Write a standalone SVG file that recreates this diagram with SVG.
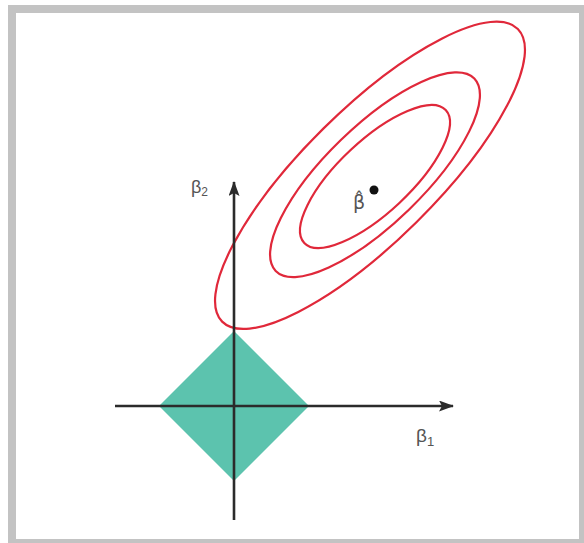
<svg xmlns="http://www.w3.org/2000/svg" width="584" height="543" viewBox="0 0 584 543">
  <style>
    .contour { fill: none; stroke: #e0283a; stroke-width: 2.2; }
    .axis { stroke: #2b2b2b; stroke-width: 2.6; fill: none; }
    .lbl { font-family: "Liberation Sans", Arial, sans-serif; fill: #555555; }
    .hat { font-family: "DejaVu Sans", sans-serif; fill: #555555; }
  </style>
  <defs>
    <marker id="arrow" viewBox="0 0 15 11" refX="14" refY="5.5" markerWidth="15" markerHeight="11" markerUnits="userSpaceOnUse" orient="auto">
      <path d="M0,0 L15,5.5 L0,11 L3,5.5 Z" fill="#2b2b2b"/>
    </marker>
  </defs>
  <rect x="0" y="0" width="584" height="543" fill="#ffffff"/>
  <rect id="frame" x="12" y="9" width="571" height="534" fill="#ffffff" stroke="#c3c3c3" stroke-width="8"/>

  <g id="constraint-region">
    <polygon points="234,331 309,406 234,481 159,406" fill="#5cc3ae"/>
  </g>

  <g id="contours">
    <ellipse id="contour-outer" class="contour" cx="370" cy="175.3" rx="208" ry="66" transform="rotate(-44.7 370 175.3)"/>
    <ellipse id="contour-middle" class="contour" cx="375" cy="174.7" rx="138.3" ry="48.7" transform="rotate(-44.1 375 174.7)"/>
    <ellipse id="contour-inner" class="contour" cx="375" cy="176.5" rx="97" ry="36" transform="rotate(-43.2 375 176.5)"/>
  </g>

  <g id="connectors">
    <line id="axis-b1" class="axis" x1="115" y1="406" x2="453" y2="406" marker-end="url(#arrow)"/>
    <line id="axis-b2" class="axis" x1="234" y1="520" x2="234" y2="182" marker-end="url(#arrow)"/>
  </g>

  <g id="beta-hat">
    <circle cx="374" cy="190" r="4.5" fill="#111111"/>
    <text class="hat" x="353" y="209" font-size="19">β̂</text>
  </g>

  <g id="label-b2">
    <text class="lbl" x="191" y="193" font-size="18">β<tspan font-size="12" dy="3">2</tspan></text>
  </g>

  <g id="label-b1">
    <text class="lbl" x="416" y="442" font-size="19">β<tspan font-size="13" dy="4">1</tspan></text>
  </g>
</svg>
